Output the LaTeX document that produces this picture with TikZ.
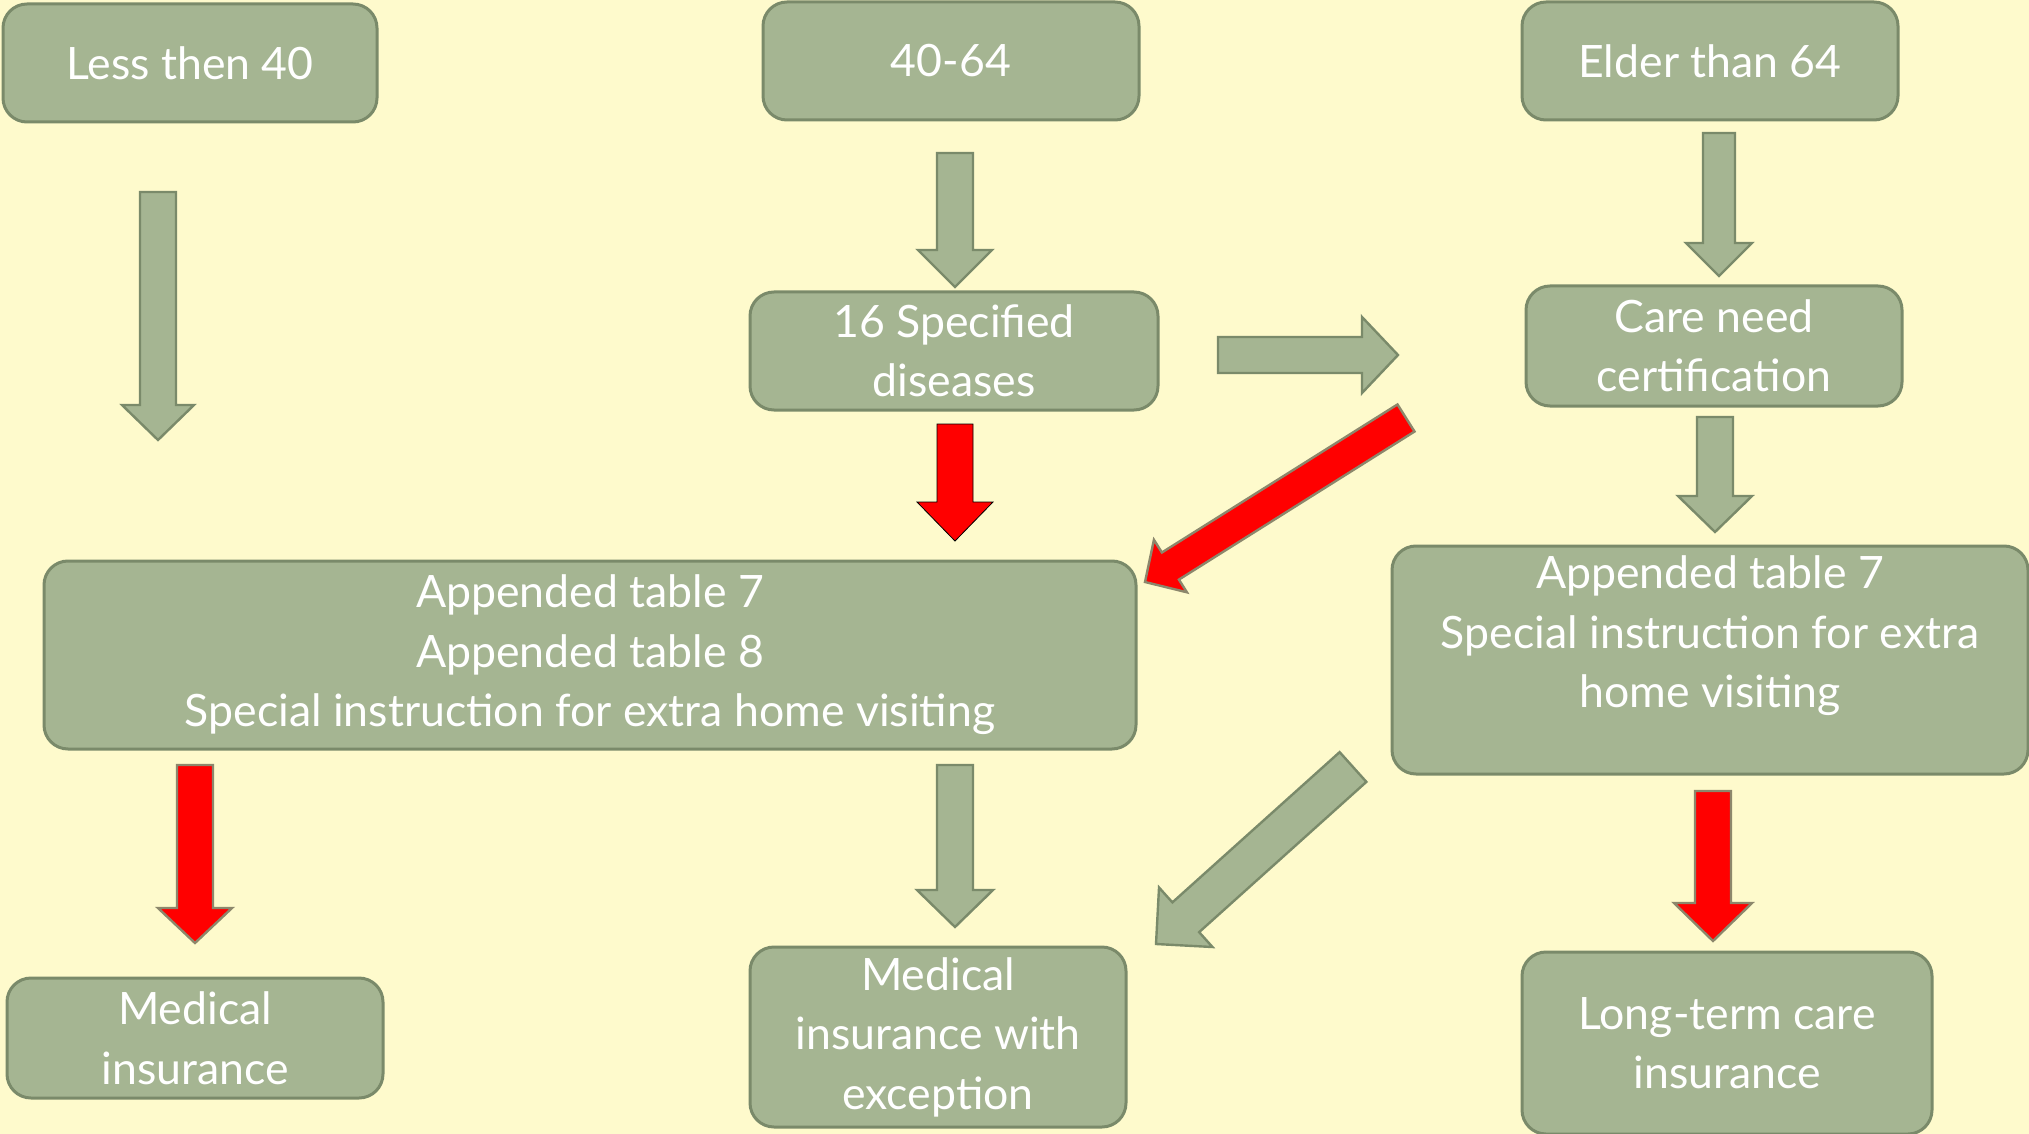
\documentclass[tikz,border=0pt]{standalone}
\usepackage{fontspec}
\setmainfont{Lato}
\usetikzlibrary{calc}

\definecolor{bgcol}{HTML}{FEFACC}
\definecolor{boxfill}{HTML}{A5B592}
\definecolor{boxline}{HTML}{7A8A6A}
\definecolor{redline}{HTML}{8C876C}

\tikzset{
  box/.style={draw=boxline,fill=boxfill,line width=1.5pt,rounded corners=12pt,
    text=white,align=center,inner sep=0pt,font=\fontsize{22.3}{29.75}\selectfont},
  boxtext/.style={text=white,align=center,font=\fontsize{22.3}{29.75}\selectfont},
  garrow/.style={draw=boxline,fill=boxfill,line width=1.2pt},
  rarrow/.style={draw=redline,fill=red,line width=1.2pt},
  rflat/.style={fill=red},
}

% block arrow: [style]{tail}{tip}{shaft half width}{head half width}{head length}
\newcommand\barrow[6][]{%
  \coordinate (ba-t) at (#2);
  \coordinate (ba-h) at (#3);
  \coordinate (ba-b) at ($(ba-h)!#6!(ba-t)$);
  \draw[#1] ($(ba-t)!#4!90:(ba-h)$) -- ($(ba-b)!#4!90:(ba-h)$)
    -- ($(ba-b)!#5!90:(ba-h)$) -- (ba-h) -- ($(ba-b)!#5!-90:(ba-h)$)
    -- ($(ba-b)!#4!-90:(ba-h)$) -- ($(ba-t)!#4!-90:(ba-h)$) -- cycle;
}

\begin{document}
\begin{tikzpicture}[x=0.5pt,y=-0.5pt]
  \useasboundingbox (0,0) rectangle (2029,1134);
  \fill[bgcol] (0,0) rectangle (2029,1134);

  % age groups
  \node[box,minimum width=187pt,minimum height=59pt] (less) at (190,63) {Less then 40};
  \node[box,minimum width=188pt,minimum height=59pt] (mid) at (951,61) {40-64};
  \node[box,minimum width=188pt,minimum height=59pt] (elder) at (1710,61) {Elder than 64};

  % second row
  \node[box,minimum width=204pt,minimum height=59pt] (spec) at (954,351) {16 Specified\\diseases};
  \node[box,minimum width=188pt,minimum height=60pt] (care) at (1714,346) {Care need\\certification};

  % tables
  \node[box,minimum width=546pt,minimum height=94pt] (tab78) at (590,655)
    {Appended table 7\\Appended table 8\\Special instruction for extra home visiting};
  \node[box,minimum width=318pt,minimum height=114pt] (tab7) at (1710,660) {};
  \node[boxtext] (tab7txt) at (1710,636)
    {Appended table 7\\Special instruction for extra\\home visiting};

  % results
  \node[box,minimum width=188pt,minimum height=60pt] (medins) at (195,1038) {Medical\\insurance};
  \node[box,minimum width=188pt,minimum height=90pt] (medex) at (938,1037) {Medical\\insurance with\\exception};
  \node[box,minimum width=205pt,minimum height=91pt] (ltc) at (1727,1043) {Long-term care\\insurance};

  % arrows
  \barrow[garrow]{158,192}{158,440}{9pt}{18pt}{17.5pt}
  \barrow[garrow]{955,153}{955,287}{9pt}{18.5pt}{18.5pt}
  \barrow[garrow]{1719,133}{1719,276}{8pt}{16.5pt}{16.5pt}
  \barrow[garrow]{1218,355}{1398,355}{9pt}{19pt}{18pt}
  \barrow[rflat]{955,424}{955,541}{9pt}{19pt}{19.5pt}
  \barrow[rarrow]{1406,418}{1145,582}{8pt}{15.5pt}{15pt}
  \barrow[garrow]{1715,417}{1715,532}{9pt}{18.5pt}{18pt}
  \barrow[rarrow]{195,765}{195,943}{9pt}{18.5pt}{17.5pt}
  \barrow[garrow]{955,765}{955,927}{9pt}{19pt}{18.5pt}
  \barrow[garrow]{1353,767}{1156,944}{10pt}{20pt}{20pt}
  \barrow[rarrow]{1713,791}{1713,941}{9pt}{19.5pt}{19pt}
\end{tikzpicture}
\end{document}
